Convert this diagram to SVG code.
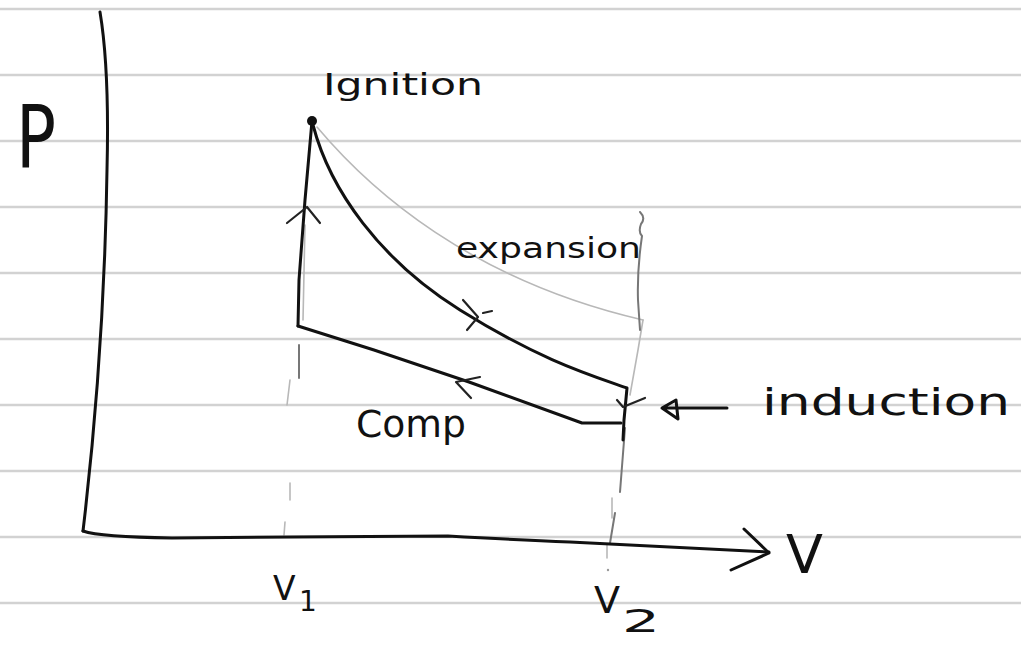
<svg xmlns="http://www.w3.org/2000/svg" width="1021" height="645" viewBox="0 0 1021 645">
<style>
.rule{stroke:#d2d2d2;stroke-width:2.5;fill:none}
.ink{stroke:#111;stroke-width:3;fill:none;stroke-linecap:round;stroke-linejoin:round}
.thin{stroke:#222;stroke-width:2.2;fill:none;stroke-linecap:round;stroke-linejoin:round}
.pencil{stroke:#b8b8b8;stroke-width:1.6;fill:none;stroke-linecap:round}
.pencil2{stroke:#777;stroke-width:2;fill:none;stroke-linecap:round}
.lbl{font-family:"DejaVu Sans","Liberation Sans",sans-serif;fill:#111}
</style>
<rect width="1021" height="645" fill="#fff"/>
<g id="paper">
<path class="rule" d="M0,9H1021M0,75H1021M0,141H1021M0,207H1021M0,273H1021M0,339H1021M0,405H1021M0,471H1021M0,537H1021M0,603H1021"/>
</g>
<g id="guides">
<path class="pencil" d="M317,127 C370,190 470,280 643,320"/>
<path class="pencil" d="M643,320 L638,350 L630,395"/>
<path class="pencil" d="M305,225 L303,320"/>
<path class="pencil2" d="M640,212 Q646,218 641,224 Q638,232 642,236 Q637,270 638,300 L640,330"/>
<path class="pencil2" d="M625,428 L620,492"/>
<path class="pencil" d="M612,498 L612,518"/>
<path class="pencil2" d="M615,513 L610,543"/>
<path class="pencil" d="M607,545 L607,558"/>
<circle cx="608" cy="570" r="1.2" fill="#999"/>
<path class="pencil2" d="M299,345 L299,378"/>
<path class="pencil" d="M290,380 L287,405"/>
<path class="pencil" d="M290,483 L290,500"/>
<path class="pencil" d="M285,522 L284,535"/>
</g>
<g id="axes">
<path class="ink" d="M100,12 C108,60 108,130 107,170 C105,300 95,430 83,531"/>
<path class="ink" d="M83,531 Q100,537 172,538 L290,537 L448,536 Q520,540 570,542 L769,552"/>
<path class="ink" d="M744,529 L769,553 L731,570"/>
</g>
<g id="connectors">
<path class="ink" d="M312,121 L305,200 L299,280 L298,326"/>
<path class="ink" d="M298,326 L374,350 L469,382 L582,423 L621,423"/>
<path class="ink" d="M313,125 C330,190 380,260 460,310 S590,375 627,388 L624,420 L623,440"/>
<path class="thin" d="M287,223 L307,207 L320,223"/>
<path class="thin" d="M463,300 L478,317 L467,330 M483,313 L492,311"/>
<path class="thin" d="M480,377 L456,382 L471,398"/>
<path class="thin" d="M617,400 L623,407 L645,398"/>
<path class="ink" d="M727,408 L662,408 M662,408 L676,400 L678,419 Z"/>
</g>
<g id="ignition">
<circle cx="312" cy="121" r="5" fill="#111"/>
<text class="lbl" x="323" y="95" font-size="31" textLength="160" lengthAdjust="spacingAndGlyphs">Ignition</text>
</g>
<g id="expansion"><text class="lbl" x="456" y="258" font-size="28" textLength="185" lengthAdjust="spacingAndGlyphs">expansion</text></g>
<g id="comp"><text class="lbl" x="356" y="437" font-size="38" textLength="110" lengthAdjust="spacingAndGlyphs">Comp</text></g>
<g id="induction"><text class="lbl" x="762" y="415" font-size="38" textLength="248" lengthAdjust="spacingAndGlyphs">induction</text></g>
<g id="labels">
<text class="lbl" x="16" y="168" font-size="88" textLength="40" lengthAdjust="spacingAndGlyphs">P</text>
<text class="lbl" x="786" y="573" font-size="54">V</text>
<text class="lbl" x="273" y="600" font-size="33">V</text>
<text class="lbl" x="299" y="611" font-size="28">1</text>
<text class="lbl" x="594" y="613" font-size="38">V</text>
<text class="lbl" x="622" y="632" font-size="32" textLength="38" lengthAdjust="spacingAndGlyphs">2</text>
</g>
</svg>
